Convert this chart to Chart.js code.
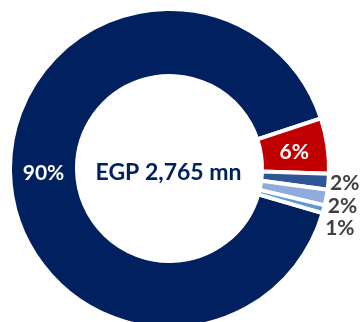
<!DOCTYPE html>
<html>
<head>
<meta charset="utf-8">
<script src="https://cdn.jsdelivr.net/npm/chart.js@4"></script>
<style>
    body { margin: 0; background: #fff; overflow: hidden; }
    #wrap { width: 364px; height: 322px; }
</style>
</head>
<body>
<div id="wrap"><canvas id="shareChart" width="364" height="322"></canvas></div>
<script>
// Chart data
const segments = ['Segment A', 'Segment B', 'Segment C', 'Segment D', 'Segment E'];
const shares = [90.4, 5.6, 1.6, 1.6, 0.8];
const shareLabels = ['90%', '6%', '2%', '2%', '1%'];
const sliceColors = ['#002060', '#C00000', '#2F5597', '#8FAADC', '#5B9BD5'];
const centerText = 'EGP 2,765 mn';

// Draws the percentage labels and the centre total
const labelPlugin = {
    id: 'sliceLabels',
    afterDatasetsDraw(chart) {
        const ctx = chart.ctx;
        const arcs = chart.getDatasetMeta(0).data;
        ctx.save();
        ctx.textBaseline = 'middle';
        let lastY = -Infinity;
        arcs.forEach((arc, i) => {
            const p = arc.getProps(['x', 'y', 'startAngle', 'endAngle', 'innerRadius', 'outerRadius'], true);
            const mid = (p.startAngle + p.endAngle) / 2;
            if (shares[i] >= 5) {
                const r = (p.innerRadius + p.outerRadius) / 2;
                ctx.fillStyle = '#ffffff';
                ctx.textAlign = 'center';
                ctx.font = 'bold 21px Lato';
                ctx.fillText(shareLabels[i], p.x + r * Math.cos(mid), p.y + r * Math.sin(mid) + 2);
            } else {
                // outside labels, pushed down so they don't overlap
                let ly = p.y + 170 * Math.sin(mid);
                ly = Math.max(ly, lastY + 22.5);
                lastY = ly;
                const lx = p.x + 161 * Math.cos(mid);
                ctx.fillStyle = '#404040';
                ctx.textAlign = 'left';
                ctx.font = 'bold 21px Lato';
                ctx.fillText(shareLabels[i], lx, ly + 1);
            }
        });
        const c = arcs[0];
        ctx.fillStyle = '#002060';
        ctx.textAlign = 'center';
        ctx.font = 'bold 23px Lato';
        ctx.fillText(centerText, c.x - 1, c.y + 4);
        ctx.restore();
    }
};

const ctx = document.getElementById('shareChart').getContext('2d');
const shareChart = new Chart(ctx, {
    type: 'doughnut',
    data: {
        labels: segments,
        datasets: [{
            data: shares,
            backgroundColor: sliceColors,
            borderColor: '#ffffff',
            borderWidth: 4
        }]
    },
    options: {
        responsive: false,
        animation: false,
        rotation: 106.26,
        radius: 159.5,
        cutout: '58%',
        layout: {
            padding: { left: 0, right: 25, top: 15, bottom: 0 }
        },
        plugins: {
            legend: { display: false },
            tooltip: { enabled: false }
        }
    },
    plugins: [labelPlugin]
});
</script>
</body>
</html>
